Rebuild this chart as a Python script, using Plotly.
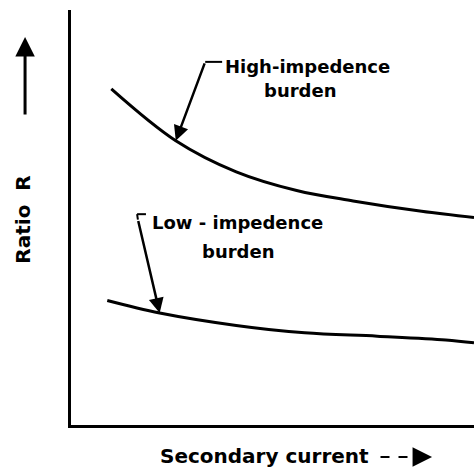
import plotly.graph_objects as go

# Ratio R against secondary current for two burden types (arbitrary units)
current_high = [1.0, 2.6, 4.1, 5.6, 7.0, 8.7, 10.0]
ratio_high = [8.1, 6.85, 6.1, 5.65, 5.4, 5.15, 5.0]

current_low = [0.9, 2.2, 4.1, 5.8, 7.6, 9.3, 10.0]
ratio_low = [3.0, 2.7, 2.4, 2.22, 2.14, 2.05, 1.98]

label_high = ["High-impedence", "burden"]
label_low = ["Low - impedence", "burden"]
x_title = "Secondary current"
y_title = "Ratio\u00a0\u00a0R"

INK = "black"
FONT = dict(family="DejaVu Sans", size=18, color=INK)
TITLE_FONT = dict(family="DejaVu Sans", size=20, color=INK)

fig = go.Figure()
fig.add_trace(go.Scatter(x=current_high, y=ratio_high, mode="lines",
                         line=dict(color=INK, width=3, shape="spline", smoothing=1.0),
                         hoverinfo="skip"))
fig.add_trace(go.Scatter(x=current_low, y=ratio_low, mode="lines",
                         line=dict(color=INK, width=3, shape="spline", smoothing=1.0),
                         hoverinfo="skip"))

annotations = []
shapes = []

# curve labels
annotations += [
    dict(x=5.88, y=8.63, xref="x", yref="y", text="<b>%s</b>" % label_high[0],
         showarrow=False, font=FONT, xanchor="center", yanchor="middle"),
    dict(x=5.68, y=8.07, xref="x", yref="y", text="<b>%s</b>" % label_high[1],
         showarrow=False, font=FONT, xanchor="center", yanchor="middle"),
    dict(x=4.13, y=4.89, xref="x", yref="y", text="<b>%s</b>" % label_low[0],
         showarrow=False, font=FONT, xanchor="center", yanchor="middle"),
    dict(x=4.14, y=4.17, xref="x", yref="y", text="<b>%s</b>" % label_low[1],
         showarrow=False, font=FONT, xanchor="center", yanchor="middle"),
]

# leader lines pointing at the curves
annotations += [
    dict(x=current_high[1], y=ratio_high[1], ax=3.33, ay=8.75, axref="x", ayref="y",
         xref="x", yref="y", text="", showarrow=True, arrowhead=2, arrowsize=1.2,
         arrowwidth=2.5, arrowcolor=INK, standoff=0),
    dict(x=current_low[1], y=ratio_low[1], ax=1.66, ay=4.95, axref="x", ayref="y",
         xref="x", yref="y", text="", showarrow=True, arrowhead=2, arrowsize=1.2,
         arrowwidth=2.5, arrowcolor=INK, standoff=0),
]
shapes += [
    dict(type="line", xref="x", yref="y", x0=3.33, y0=8.75, x1=3.75, y1=8.75,
         line=dict(color=INK, width=2)),
    dict(type="line", xref="x", yref="y", x0=1.64, y0=5.08, x1=1.86, y1=5.08,
         line=dict(color=INK, width=2)),
    dict(type="line", xref="x", yref="y", x0=1.64, y0=5.08, x1=1.66, y1=4.95,
         line=dict(color=INK, width=2)),
]

# axis titles with direction arrows
annotations += [
    dict(x=-0.12, y=0.494, xref="paper", yref="paper", text="<b>%s</b>" % y_title,
         textangle=-90, showarrow=False, font=TITLE_FONT, xanchor="center", yanchor="middle"),
    dict(x=-0.114, y=0.935, xref="paper", yref="paper", text="", showarrow=True,
         ax=0, ay=79, arrowhead=2, arrowsize=1.3, arrowwidth=3, arrowcolor=INK, standoff=0),
    dict(x=0.479, y=-0.075, xref="paper", yref="paper", text="<b>%s</b>" % x_title,
         showarrow=False, font=TITLE_FONT, xanchor="center", yanchor="middle"),
    dict(x=0.896, y=-0.077, xref="paper", yref="paper", text="", showarrow=True,
         ax=-18, ay=0, arrowhead=2, arrowsize=1.3, arrowwidth=3, arrowcolor=INK, standoff=0),
]
shapes += [
    dict(type="line", xref="paper", yref="paper", x0=0.768, y0=-0.077, x1=0.85, y1=-0.077,
         line=dict(color=INK, width=2, dash="dash")),
]

fig.update_layout(
    width=474, height=472,
    margin=dict(l=71, r=0, t=10, b=47),
    paper_bgcolor="white", plot_bgcolor="white",
    showlegend=False,
    annotations=annotations, shapes=shapes,
    xaxis=dict(range=[0, 10], showline=True, linecolor=INK, linewidth=3,
               showgrid=False, zeroline=False, showticklabels=False, ticks=""),
    yaxis=dict(range=[0, 10], showline=True, linecolor=INK, linewidth=3,
               showgrid=False, zeroline=False, showticklabels=False, ticks=""),
)

fig.write_html("out.html")
